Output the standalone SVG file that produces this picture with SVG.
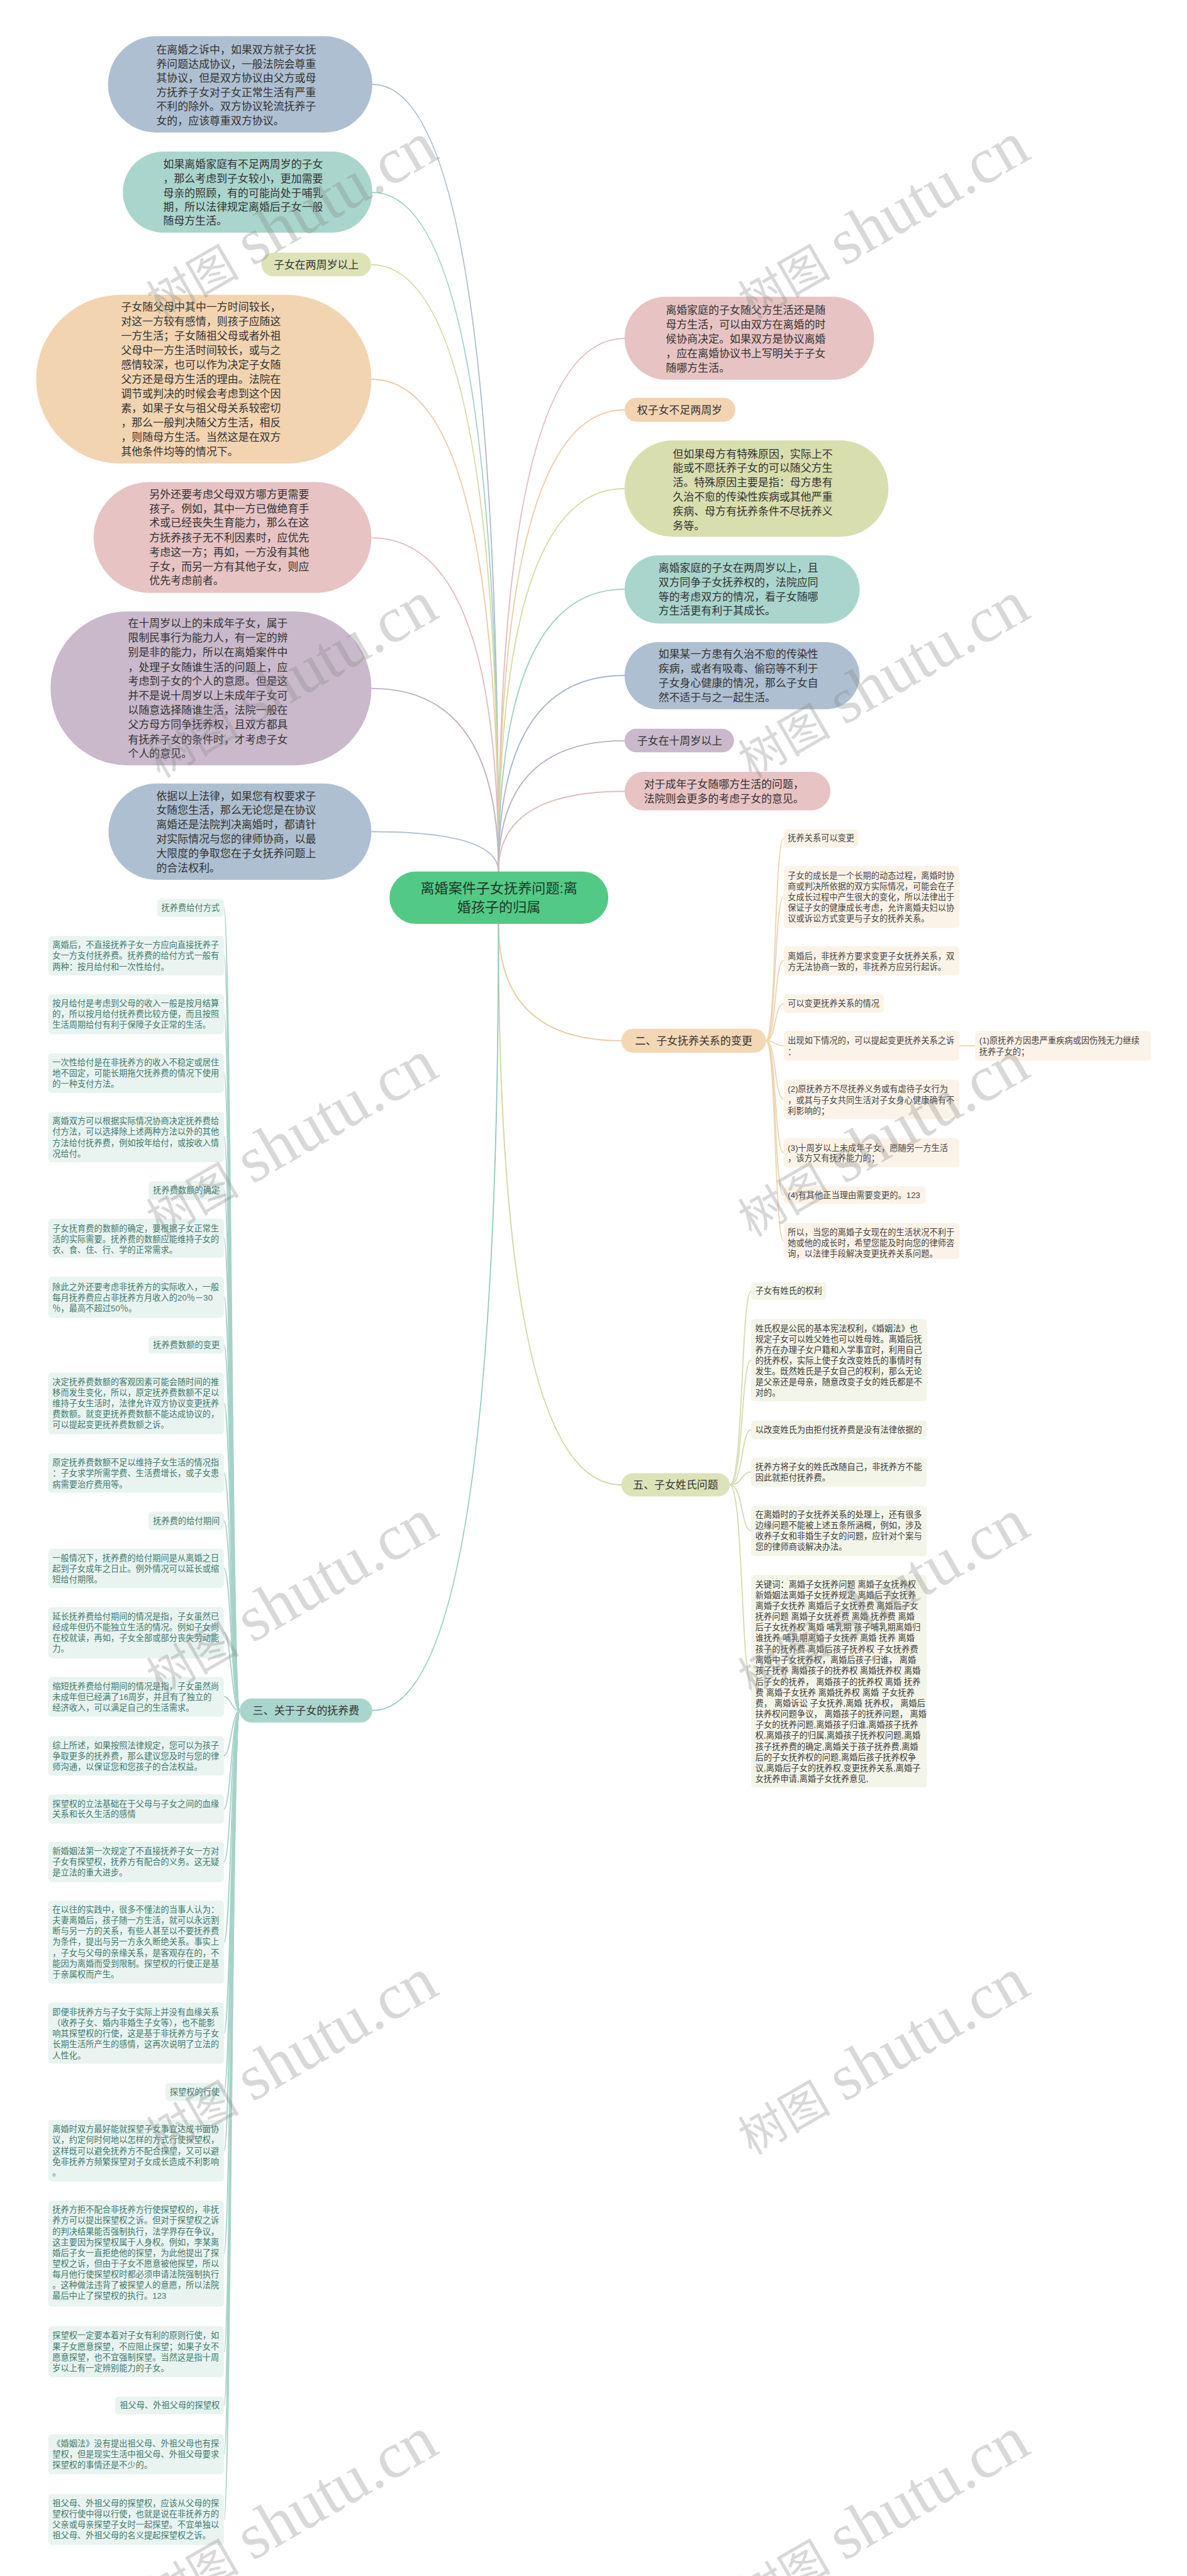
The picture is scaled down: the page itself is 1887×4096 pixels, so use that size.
<svg xmlns="http://www.w3.org/2000/svg" width="1887" height="4096" viewBox="0 0 1887 4096">
<style>
text{font-family:"Liberation Sans","Noto Sans CJK SC",sans-serif}
.b{font-size:23px;fill:#333}
.c{font-size:30px;fill:#1d3a28}
.s2{font-size:18px;fill:#444}
.s5{font-size:18px;fill:#3c3c3c}
.sl{font-size:18px;fill:#3e7a6d}
.i2{fill:#fcf3e8}
.i5{fill:#f4f5e9}
.il{fill:#e9f4f1}
.ln{fill:none;stroke-width:2.5}
.wm{fill:#888;fill-opacity:0.33}
.wc{font-size:100px}
.wl{font-size:140px;font-family:"Liberation Serif",serif}
</style>
<rect width="1887" height="4096" fill="#fff"/>
<g transform="scale(0.73711)">
<g id="connectors">
<path class="ln" stroke="#a9b9cb" d="M803 182 Q1075 182 1075 1880"/>
<path class="ln" stroke="#9fcfc5" d="M803 415 Q1075 415 1075 1880"/>
<path class="ln" stroke="#d3da9f" d="M800 571 Q1075 571 1075 1880"/>
<path class="ln" stroke="#eccaa2" d="M801 818 Q1075 818 1075 1880"/>
<path class="ln" stroke="#e0baba" d="M801 1160 Q1075 1160 1075 1880"/>
<path class="ln" stroke="#c0afc3" d="M801 1485 Q1075 1485 1075 1880"/>
<path class="ln" stroke="#a9b9cb" d="M801 1794 Q1075 1794 1075 1880"/>
<path class="ln" stroke="#e0baba" d="M1347 730 Q1075 730 1075 1880"/>
<path class="ln" stroke="#eccaa2" d="M1347 884 Q1075 884 1075 1880"/>
<path class="ln" stroke="#d3da9f" d="M1347 1054 Q1075 1054 1075 1880"/>
<path class="ln" stroke="#9fcfc5" d="M1347 1271 Q1075 1271 1075 1880"/>
<path class="ln" stroke="#a9b9cb" d="M1347 1457 Q1075 1457 1075 1880"/>
<path class="ln" stroke="#c0afc3" d="M1347 1598 Q1075 1598 1075 1880"/>
<path class="ln" stroke="#e0baba" d="M1347 1707 Q1075 1707 1075 1880"/>
<path class="ln" stroke="#ecc9a0" d="M1075 1993 Q1075 2245 1340 2245"/>
<path class="ln" stroke="#cfd69c" d="M1075 1993 Q1075 3203 1340 3203"/>
<path class="ln" stroke="#93c9bd" d="M1075 1993 Q1075 3690 803 3690"/>
<g class="ln" stroke="#f0d3b0">
<path d="M1652 2245 C1674 2245 1670 1808 1690 1808"/>
<path d="M1652 2245 C1674 2245 1670 1935 1690 1935"/>
<path d="M1652 2245 C1674 2245 1670 2072 1690 2072"/>
<path d="M1652 2245 C1674 2245 1670 2165 1690 2165"/>
<path d="M1652 2245 C1674 2245 1670 2256 1690 2256"/>
<path d="M1652 2245 C1674 2245 1670 2371 1690 2371"/>
<path d="M1652 2245 C1674 2245 1670 2486 1690 2486"/>
<path d="M1652 2245 C1674 2245 1670 2578 1690 2578"/>
<path d="M1652 2245 C1674 2245 1670 2677 1690 2677"/>
<path d="M2069 2256 L2103 2256"/>
</g>
<g class="ln" stroke="#d6dbb0" stroke-width="3">
<path d="M1574 3203 C1603 3203 1598 2785 1620 2785"/>
<path d="M1574 3203 C1603 3203 1598 2934 1620 2934"/>
<path d="M1574 3203 C1603 3203 1598 3084 1620 3084"/>
<path d="M1574 3203 C1603 3203 1598 3175 1620 3175"/>
<path d="M1574 3203 C1603 3203 1598 3302 1620 3302"/>
<path d="M1574 3203 C1603 3203 1598 3626 1620 3626"/>
</g>
<g class="ln" stroke="#a6d2c8" stroke-width="3">
<path d="M517 3690 C500 3690 498 1958 483 1958"/>
<path d="M517 3690 C500 3690 498 2061 483 2061"/>
<path d="M517 3690 C500 3690 498 2188 483 2188"/>
<path d="M517 3690 C500 3690 498 2315 483 2315"/>
<path d="M517 3690 C500 3690 498 2453 483 2453"/>
<path d="M517 3690 C500 3690 498 2568 483 2568"/>
<path d="M517 3690 C500 3690 498 2671 483 2671"/>
<path d="M517 3690 C500 3690 498 2798 483 2798"/>
<path d="M517 3690 C500 3690 498 2901 483 2901"/>
<path d="M517 3690 C500 3690 498 3027 483 3027"/>
<path d="M517 3690 C500 3690 498 3177 483 3177"/>
<path d="M517 3690 C500 3690 498 3281 483 3281"/>
<path d="M517 3690 C500 3690 498 3383 483 3383"/>
<path d="M517 3690 C500 3690 498 3522 483 3522"/>
<path d="M517 3690 C500 3690 498 3660 483 3660"/>
<path d="M517 3690 C500 3690 498 3787 483 3787"/>
<path d="M517 3690 C500 3690 498 3902 483 3902"/>
<path d="M517 3690 C500 3690 498 4016 483 4016"/>
<path d="M517 3690 C500 3690 498 4189 483 4189"/>
<path d="M517 3690 C500 3690 498 4386 483 4386"/>
<path d="M517 3690 C500 3690 498 4513 483 4513"/>
<path d="M517 3690 C500 3690 498 4639 483 4639"/>
<path d="M517 3690 C500 3690 498 4861 483 4861"/>
<path d="M517 3690 C500 3690 498 5073 483 5073"/>
<path d="M517 3690 C500 3690 498 5189 483 5189"/>
<path d="M517 3690 C500 3690 498 5294 483 5294"/>
<path d="M517 3690 C500 3690 498 5435 483 5435"/>
</g>
</g>

<g id="center"><rect x="840" y="1880" width="472" height="113" rx="56.5" fill="#53c986"/>
<text class="c" text-anchor="middle"><tspan x="1076" y="1927">离婚案件子女抚养问题:离</tspan><tspan x="1076" y="1967">婚孩子的归属</tspan></text></g>

<g id="n1"><rect x="233" y="78" width="570" height="208" rx="104" fill="#aebfd1"/>
<text class="b"><tspan x="337" y="115">在离婚之诉中，如果双方就子女抚</tspan><tspan x="337" y="146">养问题达成协议，一般法院会尊重</tspan><tspan x="337" y="176">其协议，但是双方协议由父方或母</tspan><tspan x="337" y="207">方抚养子女对子女正常生活有严重</tspan><tspan x="337" y="237">不利的除外。双方协议轮流抚养子</tspan><tspan x="337" y="268">女的，应该尊重双方协议。</tspan></text></g>
<g id="n2"><rect x="265" y="327" width="538" height="175" rx="87.5" fill="#a9d5cc"/>
<text class="b"><tspan x="352" y="362">如果离婚家庭有不足两周岁的子女</tspan><tspan x="352" y="393">，那么考虑到子女较小，更加需要</tspan><tspan x="352" y="424">母亲的照顾，有的可能尚处于哺乳</tspan><tspan x="352" y="454">期，所以法律规定离婚后子女一般</tspan><tspan x="352" y="485">随母方生活。</tspan></text></g>
<g id="n3"><rect x="564" y="545" width="236" height="51" rx="25.5" fill="#dde3b6"/>
<text class="b" x="682" y="579" text-anchor="middle">子女在两周岁以上</text></g>
<g id="n4"><rect x="78" y="636" width="723" height="364" rx="182" fill="#f2d4b1"/>
<text class="b"><tspan x="261" y="670">子女随父母中其中一方时间较长，</tspan><tspan x="261" y="701">对这一方较有感情，则孩子应随这</tspan><tspan x="261" y="732">一方生活；子女随祖父母或者外祖</tspan><tspan x="261" y="764">父母中一方生活时间较长，或与之</tspan><tspan x="261" y="795">感情较深，也可以作为决定子女随</tspan><tspan x="261" y="826">父方还是母方生活的理由。法院在</tspan><tspan x="261" y="857">调节或判决的时候会考虑到这个因</tspan><tspan x="261" y="889">素，如果子女与祖父母关系较密切</tspan><tspan x="261" y="920">，那么一般判决随父方生活，相反</tspan><tspan x="261" y="951">，则随母方生活。当然这是在双方</tspan><tspan x="261" y="982">其他条件均等的情况下。</tspan></text></g>
<g id="n5"><rect x="202" y="1040" width="599" height="239" rx="119.5" fill="#e7c3c3"/>
<text class="b"><tspan x="322" y="1074">另外还要考虑父母双方哪方更需要</tspan><tspan x="322" y="1105">孩子。例如，其中一方已做绝育手</tspan><tspan x="322" y="1136">术或已经丧失生育能力，那么在这</tspan><tspan x="322" y="1168">方抚养孩子无不利因素时，应优先</tspan><tspan x="322" y="1199">考虑这一方；再如，一方没有其他</tspan><tspan x="322" y="1230">子女，而另一方有其他子女，则应</tspan><tspan x="322" y="1261">优先考虑前者。</tspan></text></g>
<g id="n6"><rect x="109" y="1319" width="692" height="332" rx="166" fill="#c9b9cb"/>
<text class="b"><tspan x="276" y="1353">在十周岁以上的未成年子女，属于</tspan><tspan x="276" y="1384">限制民事行为能力人，有一定的辨</tspan><tspan x="276" y="1415">别是非的能力，所以在离婚案件中</tspan><tspan x="276" y="1447">，处理子女随谁生活的问题上，应</tspan><tspan x="276" y="1478">考虑到子女的个人的意愿。但是这</tspan><tspan x="276" y="1509">并不是说十周岁以上未成年子女可</tspan><tspan x="276" y="1540">以随意选择随谁生活，法院一般在</tspan><tspan x="276" y="1571">父方母方同争抚养权，且双方都具</tspan><tspan x="276" y="1603">有抚养子女的条件时，才考虑子女</tspan><tspan x="276" y="1634">个人的意见。</tspan></text></g>
<g id="n7"><rect x="234" y="1690" width="567" height="208" rx="104" fill="#aebfd1"/>
<text class="b"><tspan x="337" y="1725">依据以上法律，如果您有权要求子</tspan><tspan x="337" y="1756">女随您生活，那么无论您是在协议</tspan><tspan x="337" y="1787">离婚还是法院判决离婚时，都请针</tspan><tspan x="337" y="1818">对实际情况与您的律师协商，以最</tspan><tspan x="337" y="1849">大限度的争取您在子女抚养问题上</tspan><tspan x="337" y="1880">的合法权利。</tspan></text></g>

<g id="r1"><rect x="1347" y="640" width="538" height="179" rx="89.5" fill="#e7c3c3"/>
<text class="b"><tspan x="1436" y="677">离婚家庭的子女随父方生活还是随</tspan><tspan x="1436" y="708">母方生活，可以由双方在离婚的时</tspan><tspan x="1436" y="740">候协商决定。如果双方是协议离婚</tspan><tspan x="1436" y="771">，应在离婚协议书上写明关于子女</tspan><tspan x="1436" y="802">随哪方生活。</tspan></text></g>
<g id="r2"><rect x="1347" y="858" width="239" height="52" rx="26" fill="#f2d4b1"/>
<text class="b" x="1374" y="892">权子女不足两周岁</text></g>
<g id="r3"><rect x="1347" y="950" width="569" height="208" rx="104" fill="#d9deae"/>
<text class="b"><tspan x="1451" y="987">但如果母方有特殊原因，实际上不</tspan><tspan x="1451" y="1018">能或不愿抚养子女的可以随父方生</tspan><tspan x="1451" y="1049">活。特殊原因主要是指：母方患有</tspan><tspan x="1451" y="1080">久治不愈的传染性疾病或其他严重</tspan><tspan x="1451" y="1111">疾病、母方有抚养条件不尽抚养义</tspan><tspan x="1451" y="1142">务等。</tspan></text></g>
<g id="r4"><rect x="1347" y="1198" width="507" height="147" rx="73.5" fill="#a9d5cc"/>
<text class="b"><tspan x="1420" y="1233">离婚家庭的子女在两周岁以上，且</tspan><tspan x="1420" y="1264">双方同争子女抚养权的，法院应同</tspan><tspan x="1420" y="1295">等的考虑双方的情况，看子女随哪</tspan><tspan x="1420" y="1326">方生活更有利于其成长。</tspan></text></g>
<g id="r5"><rect x="1347" y="1385" width="507" height="145" rx="72.5" fill="#aebfd1"/>
<text class="b"><tspan x="1420" y="1419">如果某一方患有久治不愈的传染性</tspan><tspan x="1420" y="1450">疾病，或者有吸毒、偷窃等不利于</tspan><tspan x="1420" y="1481">子女身心健康的情况，那么子女自</tspan><tspan x="1420" y="1512">然不适于与之一起生活。</tspan></text></g>
<g id="r6"><rect x="1347" y="1572" width="236" height="51" rx="25.5" fill="#c9b9cb"/>
<text class="b" x="1374" y="1606">子女在十周岁以上</text></g>
<g id="r7"><rect x="1347" y="1665" width="444" height="83" rx="41.5" fill="#e7c3c3"/>
<text class="b"><tspan x="1389" y="1700">对于成年子女随哪方生活的问题，</tspan><tspan x="1389" y="1731">法院则会更多的考虑子女的意见。</tspan></text></g>

<g id="sec2"><rect x="1340" y="2219" width="312" height="52" rx="26" fill="#f4d7b5"/>
<text class="b" x="1496" y="2253" text-anchor="middle">二、子女抚养关系的变更</text></g>
<g id="s2a"><rect class="i2" x="1690" y="1789" width="161" height="39" rx="8"/><text class="s2" x="1699" y="1814">抚养关系可以变更</text></g>
<g id="s2b"><rect class="i2" x="1690" y="1868" width="379" height="134" rx="8"/><text class="s2"><tspan x="1699" y="1895">子女的成长是一个长期的动态过程，离婚时协</tspan><tspan x="1699" y="1918">商或判决所依据的双方实际情况，可能会在子</tspan><tspan x="1699" y="1942">女成长过程中产生很大的变化，所以法律出于</tspan><tspan x="1699" y="1965">保证子女的健康成长考虑，允许离婚夫妇以协</tspan><tspan x="1699" y="1988">议或诉讼方式变更与子女的抚养关系。</tspan></text></g>
<g id="s2c"><rect class="i2" x="1690" y="2041" width="379" height="63" rx="8"/><text class="s2"><tspan x="1699" y="2069">离婚后，非抚养方要求变更子女抚养关系，双</tspan><tspan x="1699" y="2092">方无法协商一致的，非抚养方应另行起诉。</tspan></text></g>
<g id="s2d"><rect class="i2" x="1690" y="2145" width="216" height="40" rx="8"/><text class="s2" x="1699" y="2171">可以变更抚养关系的情况</text></g>
<g id="s2e"><rect class="i2" x="1690" y="2224" width="379" height="64" rx="8"/><text class="s2"><tspan x="1699" y="2251">出现如下情况的，可以提起变更抚养关系之诉</tspan><tspan x="1699" y="2275">：</tspan></text></g>
<g id="s2e1"><rect class="i2" x="2103" y="2224" width="379" height="64" rx="8"/><text class="s2"><tspan x="2112" y="2251">(1)原抚养方因患严重疾病或因伤残无力继续</tspan><tspan x="2112" y="2275">抚养子女的；</tspan></text></g>
<g id="s2f"><rect class="i2" x="1690" y="2329" width="379" height="85" rx="8"/><text class="s2"><tspan x="1699" y="2355">(2)原抚养方不尽抚养义务或有虐待子女行为</tspan><tspan x="1699" y="2379">，或其与子女共同生活对子女身心健康确有不</tspan><tspan x="1699" y="2402">利影响的；</tspan></text></g>
<g id="s2g"><rect class="i2" x="1690" y="2455" width="379" height="63" rx="8"/><text class="s2"><tspan x="1699" y="2483">(3)十周岁以上未成年子女，愿随另一方生活</tspan><tspan x="1699" y="2505">，该方又有抚养能力的；</tspan></text></g>
<g id="s2h"><rect class="i2" x="1690" y="2559" width="306" height="38" rx="8"/><text class="s2" x="1699" y="2584">(4)有其他正当理由需要变更的。123</text></g>
<g id="s2i"><rect class="i2" x="1690" y="2638" width="379" height="78" rx="8"/><text class="s2"><tspan x="1699" y="2664">所以，当您的离婚子女现在的生活状况不利于</tspan><tspan x="1699" y="2688">她或他的成长时，希望您能及时向您的律师咨</tspan><tspan x="1699" y="2711">询，以法律手段解决变更抚养关系问题。</tspan></text></g>

<g id="sec5"><rect x="1340" y="3178" width="234" height="50" rx="25" fill="#dde3b8"/>
<text class="b" x="1457" y="3211" text-anchor="middle">五、子女姓氏问题</text></g>
<g id="s5a"><rect class="i5" x="1620" y="2766" width="162" height="38" rx="8"/><text class="s5" x="1629" y="2791">子女有姓氏的权利</text></g>
<g id="s5b"><rect class="i5" x="1620" y="2845" width="379" height="178" rx="8"/><text class="s5"><tspan x="1629" y="2872">姓氏权是公民的基本宪法权利，《婚姻法》也</tspan><tspan x="1629" y="2895">规定子女可以姓父姓也可以姓母姓。离婚后抚</tspan><tspan x="1629" y="2918">养方在办理子女户籍和入学事宜时，利用自己</tspan><tspan x="1629" y="2941">的抚养权，实际上使子女改变姓氏的事情时有</tspan><tspan x="1629" y="2964">发生。既然姓氏是子女自己的权利，那么无论</tspan><tspan x="1629" y="2987">是父亲还是母亲，随意改变子女的姓氏都是不</tspan><tspan x="1629" y="3010">对的。</tspan></text></g>
<g id="s5c"><rect class="i5" x="1620" y="3064" width="379" height="41" rx="8"/><text class="s5" x="1629" y="3090">以改变姓氏为由拒付抚养费是没有法律依据的</text></g>
<g id="s5d"><rect class="i5" x="1620" y="3144" width="379" height="63" rx="8"/><text class="s5"><tspan x="1629" y="3171">抚养方将子女的姓氏改随自己，非抚养方不能</tspan><tspan x="1629" y="3194">因此就拒付抚养费。</tspan></text></g>
<g id="s5e"><rect class="i5" x="1620" y="3248" width="379" height="109" rx="8"/><text class="s5"><tspan x="1629" y="3274">在离婚时的子女抚养关系的处理上，还有很多</tspan><tspan x="1629" y="3297">边缘问题不能被上述五条所涵概，例如，涉及</tspan><tspan x="1629" y="3320">收养子女和非婚生子女的问题，应针对个案与</tspan><tspan x="1629" y="3343">您的律师商谈解决办法。</tspan></text></g>
<g id="s5f"><rect class="i5" x="1620" y="3397" width="379" height="459" rx="8"/><text class="s5"><tspan x="1629" y="3424">关键词：离婚子女抚养问题 离婚子女抚养权</tspan><tspan x="1629" y="3447">新婚姻法离婚子女抚养规定 离婚后子女抚养</tspan><tspan x="1629" y="3470">离婚子女抚养 离婚后子女抚养费 离婚后子女</tspan><tspan x="1629" y="3494">抚养问题 离婚子女抚养费 离婚 抚养费 离婚</tspan><tspan x="1629" y="3517">后子女抚养权 离婚 哺乳期 孩子哺乳期离婚归</tspan><tspan x="1629" y="3540">谁抚养 哺乳期离婚子女抚养 离婚 抚养 离婚</tspan><tspan x="1629" y="3564">孩子的抚养费 离婚后孩子抚养权 子女抚养费</tspan><tspan x="1629" y="3587">离婚中子女抚养权，离婚后孩子归谁， 离婚</tspan><tspan x="1629" y="3610">孩子抚养 离婚孩子的抚养权 离婚抚养权 离婚</tspan><tspan x="1629" y="3634">后子女的抚养， 离婚孩子的抚养权 离婚 抚养</tspan><tspan x="1629" y="3657">费 离婚子女抚养 离婚抚养权 离婚 子女抚养</tspan><tspan x="1629" y="3680">费， 离婚诉讼 子女抚养,离婚 抚养权， 离婚后</tspan><tspan x="1629" y="3704">扶养权问题争议， 离婚孩子的抚养问题， 离婚</tspan><tspan x="1629" y="3727">子女的抚养问题,离婚孩子归谁,离婚孩子抚养</tspan><tspan x="1629" y="3750">权,离婚孩子的归属,离婚孩子抚养权问题,离婚</tspan><tspan x="1629" y="3774">孩子抚养费的确定,离婚关于孩子抚养费,离婚</tspan><tspan x="1629" y="3797">后的子女抚养权的问题,离婚后孩子抚养权争</tspan><tspan x="1629" y="3820">议,离婚后子女的抚养权,变更抚养关系,离婚子</tspan><tspan x="1629" y="3843">女抚养申请,离婚子女抚养意见,</tspan></text></g>

<g id="sec3"><rect x="517" y="3664" width="286" height="52" rx="26" fill="#a9d5cc"/>
<text class="b" x="660" y="3698" text-anchor="middle">三、关于子女的抚养费</text></g>
<g id="l1"><rect class="il" x="339" y="1939" width="144" height="39" rx="8"/><text class="sl" x="474" y="1964" text-anchor="end">抚养费给付方式</text></g>
<g id="l2"><rect class="il" x="104" y="2019" width="379" height="85" rx="8"/><text class="sl"><tspan x="113" y="2045">离婚后，不直接抚养子女一方应向直接抚养子</tspan><tspan x="113" y="2068">女一方支付抚养费。抚养费的给付方式一般有</tspan><tspan x="113" y="2092">两种：按月给付和一次性给付。</tspan></text></g>
<g id="l3"><rect class="il" x="104" y="2145" width="379" height="86" rx="8"/><text class="sl"><tspan x="113" y="2171">按月给付是考虑到父母的收入一般是按月结算</tspan><tspan x="113" y="2194">的，所以按月给付抚养费比较方便，而且按照</tspan><tspan x="113" y="2217">生活周期给付有利于保障子女正常的生活。</tspan></text></g>
<g id="l4"><rect class="il" x="104" y="2272" width="379" height="86" rx="8"/><text class="sl"><tspan x="113" y="2298">一次性给付是在非抚养方的收入不稳定或居住</tspan><tspan x="113" y="2321">地不固定，可能长期拖欠抚养费的情况下使用</tspan><tspan x="113" y="2344">的一种支付方法。</tspan></text></g>
<g id="l5"><rect class="il" x="104" y="2399" width="379" height="108" rx="8"/><text class="sl"><tspan x="113" y="2425">离婚双方可以根据实际情况协商决定抚养费给</tspan><tspan x="113" y="2448">付方法，可以选择除上述两种方法以外的其他</tspan><tspan x="113" y="2472">方法给付抚养费，例如按年给付，或按收入情</tspan><tspan x="113" y="2495">况给付。</tspan></text></g>
<g id="l6"><rect class="il" x="320" y="2548" width="163" height="40" rx="8"/><text class="sl" x="474" y="2574" text-anchor="end">抚养费数额的确定</text></g>
<g id="l7"><rect class="il" x="104" y="2629" width="379" height="84" rx="8"/><text class="sl"><tspan x="113" y="2656">子女抚育费的数额的确定，要根据子女正常生</tspan><tspan x="113" y="2679">活的实际需要。抚养费的数额应能维持子女的</tspan><tspan x="113" y="2702">衣、食、住、行、学的正常需求。</tspan></text></g>
<g id="l8"><rect class="il" x="104" y="2754" width="379" height="89" rx="8"/><text class="sl"><tspan x="113" y="2782">除此之外还要考虑非抚养方的实际收入，一般</tspan><tspan x="113" y="2805">每月抚养费应占非抚养方月收入的20％－30</tspan><tspan x="113" y="2828">％，最高不超过50％。</tspan></text></g>
<g id="l9"><rect class="il" x="320" y="2882" width="163" height="38" rx="8"/><text class="sl" x="474" y="2907" text-anchor="end">抚养费数额的变更</text></g>
<g id="l10"><rect class="il" x="104" y="2961" width="379" height="133" rx="8"/><text class="sl"><tspan x="113" y="2987">决定抚养费数额的客观因素可能会随时间的推</tspan><tspan x="113" y="3010">移而发生变化，所以，原定抚养费数额不足以</tspan><tspan x="113" y="3033">维持子女生活时，法律允许双方协议变更抚养</tspan><tspan x="113" y="3057">费数额。就变更抚养费数额不能达成协议的，</tspan><tspan x="113" y="3080">可以提起变更抚养费数额之诉。</tspan></text></g>
<g id="l11"><rect class="il" x="104" y="3135" width="379" height="85" rx="8"/><text class="sl"><tspan x="113" y="3161">原定抚养费数额不足以维持子女生活的情况指</tspan><tspan x="113" y="3184">：子女求学所需学费、生活费增长，或子女患</tspan><tspan x="113" y="3208">病需要治疗费用等。</tspan></text></g>
<g id="l12"><rect class="il" x="320" y="3261" width="163" height="39" rx="8"/><text class="sl" x="474" y="3287" text-anchor="end">抚养费的给付期间</text></g>
<g id="l13"><rect class="il" x="104" y="3341" width="379" height="85" rx="8"/><text class="sl"><tspan x="113" y="3367">一般情况下，抚养费的给付期间是从离婚之日</tspan><tspan x="113" y="3390">起到子女成年之日止。例外情况可以延长或缩</tspan><tspan x="113" y="3414">短给付期限。</tspan></text></g>
<g id="l14"><rect class="il" x="104" y="3467" width="379" height="110" rx="8"/><text class="sl"><tspan x="113" y="3493">延长抚养费给付期间的情况是指，子女虽然已</tspan><tspan x="113" y="3516">经成年但仍不能独立生活的情况。例如子女尚</tspan><tspan x="113" y="3540">在校就读，再如，子女全部或部分丧失劳动能</tspan><tspan x="113" y="3563">力。</tspan></text></g>
<g id="l15"><rect class="il" x="104" y="3618" width="379" height="85" rx="8"/><text class="sl"><tspan x="113" y="3644">缩短抚养费给付期间的情况是指，子女虽然尚</tspan><tspan x="113" y="3667">未成年但已经满了16周岁，并且有了独立的</tspan><tspan x="113" y="3690">经济收入，可以满足自己的生活需求。</tspan></text></g>
<g id="l16"><rect class="il" x="104" y="3745" width="379" height="85" rx="8"/><text class="sl"><tspan x="113" y="3771">综上所述，如果按照法律规定，您可以为孩子</tspan><tspan x="113" y="3794">争取更多的抚养费，那么建议您及时与您的律</tspan><tspan x="113" y="3817">师沟通，以保证您和您孩子的合法权益。</tspan></text></g>
<g id="l17"><rect class="il" x="104" y="3871" width="379" height="63" rx="8"/><text class="sl"><tspan x="113" y="3897">探望权的立法基础在于父母与子女之间的血缘</tspan><tspan x="113" y="3920">关系和长久生活的感情</tspan></text></g>
<g id="l18"><rect class="il" x="104" y="3973" width="379" height="87" rx="8"/><text class="sl"><tspan x="113" y="4000">新婚姻法第一次规定了不直接抚养子女一方对</tspan><tspan x="113" y="4023">子女有探望权，抚养方有配合的义务。这无疑</tspan><tspan x="113" y="4046">是立法的重大进步。</tspan></text></g>
<g id="l19"><rect class="il" x="104" y="4100" width="379" height="179" rx="8"/><text class="sl"><tspan x="113" y="4126">在以往的实践中，很多不懂法的当事人认为：</tspan><tspan x="113" y="4149">夫妻离婚后，孩子随一方生活，就可以永远割</tspan><tspan x="113" y="4172">断与另一方的关系，有些人甚至以不要抚养费</tspan><tspan x="113" y="4195">为条件，提出与另一方永久断绝关系。事实上</tspan><tspan x="113" y="4219">，子女与父母的亲缘关系，是客观存在的，不</tspan><tspan x="113" y="4242">能因为离婚而受到限制。探望权的行使正是基</tspan><tspan x="113" y="4265">于亲属权而产生。</tspan></text></g>
<g id="l20"><rect class="il" x="104" y="4320" width="379" height="132" rx="8"/><text class="sl"><tspan x="113" y="4347">即便非抚养方与子女于实际上并没有血缘关系</tspan><tspan x="113" y="4370">（收养子女、婚内非婚生子女等），也不能影</tspan><tspan x="113" y="4393">响其探望权的行使，这是基于非抚养方与子女</tspan><tspan x="113" y="4416">长期生活所产生的感情，这再次说明了立法的</tspan><tspan x="113" y="4440">人性化。</tspan></text></g>
<g id="l21"><rect class="il" x="357" y="4493" width="126" height="39" rx="8"/><text class="sl" x="474" y="4519" text-anchor="end">探望权的行使</text></g>
<g id="l22"><rect class="il" x="104" y="4573" width="379" height="133" rx="8"/><text class="sl"><tspan x="113" y="4599">离婚时双方最好能就探望子女事宜达成书面协</tspan><tspan x="113" y="4622">议，约定何时何地以怎样的方式行使探望权，</tspan><tspan x="113" y="4646">这样既可以避免抚养方不配合探望，又可以避</tspan><tspan x="113" y="4669">免非抚养方频繁探望对子女成长造成不利影响</tspan><tspan x="113" y="4693">。</tspan></text></g>
<g id="l23"><rect class="il" x="104" y="4747" width="379" height="229" rx="8"/><text class="sl"><tspan x="113" y="4773">抚养方拒不配合非抚养方行使探望权的，非抚</tspan><tspan x="113" y="4796">养方可以提出探望权之诉。但对于探望权之诉</tspan><tspan x="113" y="4820">的判决结果能否强制执行，法学界存在争议，</tspan><tspan x="113" y="4843">这主要因为探望权属于人身权。例如，李某离</tspan><tspan x="113" y="4866">婚后子女一直拒绝他的探望，为此他提出了探</tspan><tspan x="113" y="4889">望权之诉，但由于子女不愿意被他探望，所以</tspan><tspan x="113" y="4913">每月他行使探望权时都必须申请法院强制执行</tspan><tspan x="113" y="4936">。这种做法违背了被探望人的意愿，所以法院</tspan><tspan x="113" y="4959">最后中止了探望权的执行。123</tspan></text></g>
<g id="l24"><rect class="il" x="104" y="5018" width="379" height="110" rx="8"/><text class="sl"><tspan x="113" y="5044">探望权一定要本着对子女有利的原则行使，如</tspan><tspan x="113" y="5068">果子女愿意探望，不应阻止探望；如果子女不</tspan><tspan x="113" y="5091">愿意探望，也不宜强制探望。当然这是指十周</tspan><tspan x="113" y="5114">岁以上有一定辨别能力的子女。</tspan></text></g>
<g id="l25"><rect class="il" x="248" y="5170" width="235" height="38" rx="8"/><text class="sl" x="474" y="5195" text-anchor="end">祖父母、外祖父母的探望权</text></g>
<g id="l26"><rect class="il" x="104" y="5251" width="379" height="86" rx="8"/><text class="sl"><tspan x="113" y="5277">《婚姻法》没有提出祖父母、外祖父母也有探</tspan><tspan x="113" y="5300">望权，但是现实生活中祖父母、外祖父母要求</tspan><tspan x="113" y="5324">探望权的事情还是不少的。</tspan></text></g>
<g id="l27"><rect class="il" x="104" y="5380" width="379" height="110" rx="8"/><text class="sl"><tspan x="113" y="5406">祖父母、外祖父母的探望权，应该从父母的探</tspan><tspan x="113" y="5429">望权行使中得以行使，也就是说在非抚养方的</tspan><tspan x="113" y="5452">父亲或母亲探望子女时一起探望。不宜单独以</tspan><tspan x="113" y="5476">祖父母、外祖父母的名义提起探望权之诉。</tspan></text></g>

<g id="watermarks" class="wm">
<text transform="translate(345 690) rotate(-30)"><tspan class="wc">树图</tspan><tspan class="wl" dx="30">shutu.cn</tspan></text>
<text transform="translate(1621 690) rotate(-30)"><tspan class="wc">树图</tspan><tspan class="wl" dx="30">shutu.cn</tspan></text>
<text transform="translate(345 1680) rotate(-30)"><tspan class="wc">树图</tspan><tspan class="wl" dx="30">shutu.cn</tspan></text>
<text transform="translate(1621 1680) rotate(-30)"><tspan class="wc">树图</tspan><tspan class="wl" dx="30">shutu.cn</tspan></text>
<text transform="translate(345 2670) rotate(-30)"><tspan class="wc">树图</tspan><tspan class="wl" dx="30">shutu.cn</tspan></text>
<text transform="translate(1621 2670) rotate(-30)"><tspan class="wc">树图</tspan><tspan class="wl" dx="30">shutu.cn</tspan></text>
<text transform="translate(345 3660) rotate(-30)"><tspan class="wc">树图</tspan><tspan class="wl" dx="30">shutu.cn</tspan></text>
<text transform="translate(1621 3660) rotate(-30)"><tspan class="wc">树图</tspan><tspan class="wl" dx="30">shutu.cn</tspan></text>
<text transform="translate(345 4650) rotate(-30)"><tspan class="wc">树图</tspan><tspan class="wl" dx="30">shutu.cn</tspan></text>
<text transform="translate(1621 4650) rotate(-30)"><tspan class="wc">树图</tspan><tspan class="wl" dx="30">shutu.cn</tspan></text>
<text transform="translate(345 5640) rotate(-30)"><tspan class="wc">树图</tspan><tspan class="wl" dx="30">shutu.cn</tspan></text>
<text transform="translate(1621 5640) rotate(-30)"><tspan class="wc">树图</tspan><tspan class="wl" dx="30">shutu.cn</tspan></text>
</g>
</g>
</svg>
